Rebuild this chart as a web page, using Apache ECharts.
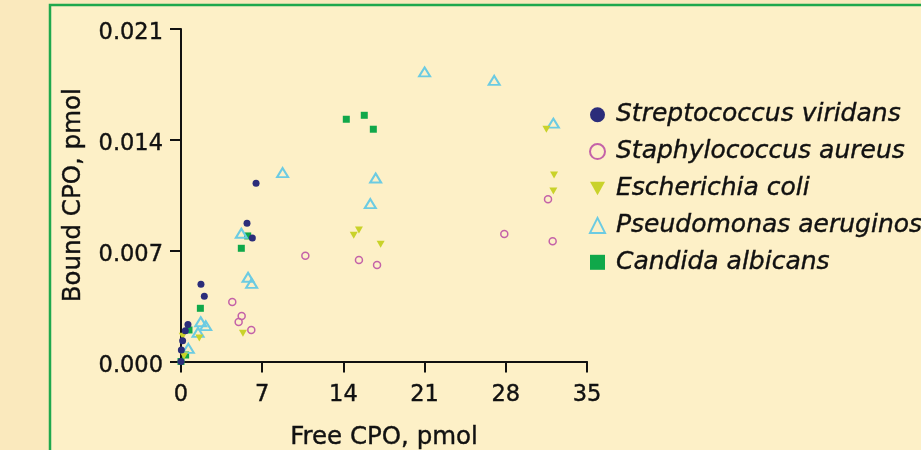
<!DOCTYPE html>
<html>
<head>
<meta charset="utf-8">
<script src="https://cdn.jsdelivr.net/npm/echarts@6/dist/echarts.min.js"></script>
<style>
    html, body {margin: 0; padding: 0; background: #FAE9BD;}
    #main {width: 921px; height: 450px;}
</style>
</head>
<body>
<div id="main"></div>
<script>
// values: [free CPO, bound CPO]
const streptococcus = [[0, 0], [0.03, 0.00073], [0.14, 0.00131], [0.37, 0.00195], [0.6, 0.00233],
    [1.72, 0.00488], [2.01, 0.00412], [5.69, 0.00873], [6.15, 0.0078], [6.47, 0.01126]]
const staphylococcus = [[4.42, 0.00376], [4.97, 0.0025], [5.23, 0.00287], [6.06, 0.00199], [10.72, 0.00668],
    [15.34, 0.00641], [16.9, 0.0061], [27.87, 0.00805], [31.64, 0.01025], [32.04, 0.00759]]
const escherichia = [[0.26, 0.00035], [0.15, 0.0016], [1.58, 0.00148], [5.34, 0.00178], [14.89, 0.00797],
    [15.34, 0.00831], [17.21, 0.0074], [31.5, 0.01467], [32.16, 0.01178], [32.1, 0.01077]]
const pseudomonas = [[0.63, 0.00083], [1.47, 0.00184], [1.7, 0.00251], [2.13, 0.00226], [5.2, 0.0081],
    [5.78, 0.00532], [6.09, 0.00494], [8.76, 0.01193], [16.32, 0.00997], [16.78, 0.01159],
    [21.0, 0.01829], [27.0, 0.01776], [32.1, 0.01505]]
const candida = [[0, 0], [0.4, 0.00041], [0.69, 0.00199], [1.67, 0.00336], [5.2, 0.00715],
    [5.75, 0.00793], [14.25, 0.0153], [15.8, 0.01555], [16.58, 0.01467]]

const xTicks = [0, 7, 14, 21, 28, 35]
const yTicks = [0, 0.007, 0.014, 0.021]

const font = 'DejaVu Sans'
const ink = '#111'
const downTri = 'path://M0,0 L10,0 L5,9 Z'
// a thin outline in the text colour makes the labels a bit heavier, like the print
const heavy = {textBorderColor: ink, textBorderWidth: 0.4}

const chart = echarts.init(document.getElementById('main'))

const option = {
    backgroundColor: '#FAE9BD',
    animation: false,
    graphic: [{
        type: 'rect',
        z: -10,
        shape: {x: 50, y: 5, width: 900, height: 500},
        style: {fill: '#FDF0C7', stroke: '#1fa84d', lineWidth: 2.5}
    }],
    grid: {left: 181, right: 334, top: 29, bottom: 88.5, outerBoundsMode: 'none'},
    legend: {
        orient: 'vertical',
        left: 584,
        top: 97,
        itemWidth: 15,
        itemHeight: 15,
        itemGap: 11.5,
        data: ['Streptococcus viridans', 'Staphylococcus aureus', 'Escherichia coli',
            'Pseudomonas aeruginosa', 'Candida albicans'],
        textStyle: Object.assign({
            fontFamily: font, fontStyle: 'italic', fontSize: 25, color: ink,
            lineHeight: 24, padding: [0, 0, 0, 6]
        }, heavy)
    },
    xAxis: {
        type: 'value',
        min: xTicks[0],
        max: xTicks[xTicks.length - 1],
        interval: 7,
        name: 'Free CPO, pmol',
        nameLocation: 'middle',
        nameGap: 64,
        nameTextStyle: Object.assign({fontFamily: font, fontSize: 24.5, color: ink}, heavy),
        splitLine: {show: false},
        axisLine: {lineStyle: {color: ink, width: 2}},
        axisTick: {length: 11, lineStyle: {color: ink, width: 2}},
        axisLabel: Object.assign({fontFamily: font, fontSize: 22.5, color: ink, margin: 22}, heavy)
    },
    yAxis: {
        type: 'value',
        min: yTicks[0],
        max: yTicks[yTicks.length - 1],
        interval: 0.007,
        name: 'Bound CPO, pmol',
        nameLocation: 'middle',
        nameGap: 95,
        nameTextStyle: Object.assign({fontFamily: font, fontSize: 24.5, color: ink}, heavy),
        splitLine: {show: false},
        axisLine: {show: true, lineStyle: {color: ink, width: 2}},
        axisTick: {show: true, length: 11, lineStyle: {color: ink, width: 2}},
        axisLabel: Object.assign({
            fontFamily: font, fontSize: 22.5, color: ink, margin: 18,
            // labels sit a few px below their ticks in the print
            verticalAlign: 'top', lineHeight: 9,
            formatter: v => v.toFixed(3)
        }, heavy)
    },
    series: [
        {
            name: 'Streptococcus viridans', type: 'scatter', z: 6,
            data: streptococcus, symbol: 'circle', symbolSize: 7,
            itemStyle: {color: '#2b2d7a', opacity: 1}
        },
        {
            name: 'Staphylococcus aureus', type: 'scatter', z: 5,
            data: staphylococcus, symbol: 'circle', symbolSize: 7,
            itemStyle: {color: 'rgba(0,0,0,0)', borderColor: '#c462a8', borderWidth: 1.5, opacity: 1}
        },
        {
            name: 'Escherichia coli', type: 'scatter', z: 4,
            data: escherichia, symbol: downTri, symbolSize: [8, 7],
            itemStyle: {color: '#c9d22a', opacity: 1}
        },
        {
            name: 'Pseudomonas aeruginosa', type: 'scatter', z: 3,
            data: pseudomonas, symbol: 'triangle', symbolSize: [11, 9],
            itemStyle: {color: 'rgba(0,0,0,0)', borderColor: '#6ccbe2', borderWidth: 2, opacity: 1}
        },
        {
            name: 'Candida albicans', type: 'scatter', z: 2,
            data: candida, symbol: 'rect', symbolSize: 7,
            itemStyle: {color: '#10a84a', opacity: 1}
        }
    ]
}

chart.setOption(option)
</script>
</body>
</html>
